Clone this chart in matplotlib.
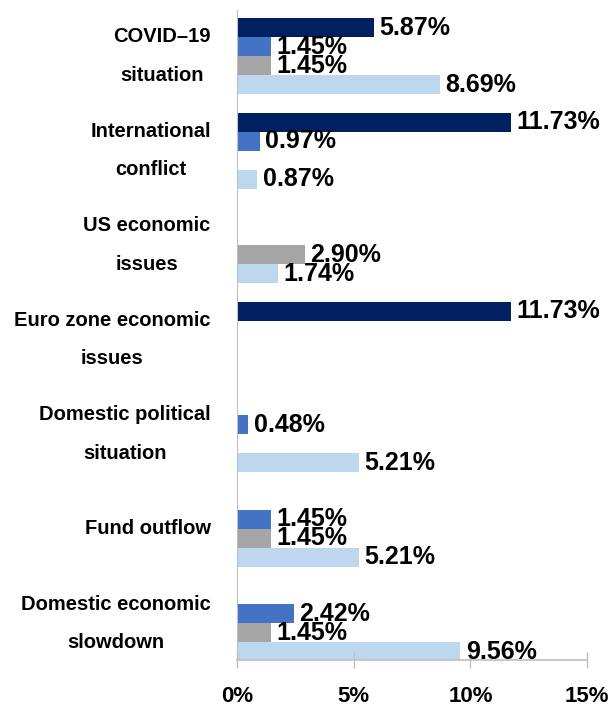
import matplotlib
matplotlib.use('Agg')
import matplotlib.pyplot as plt
import numpy as np

plt.rcParams['font.family'] = ['Liberation Sans', 'DejaVu Sans']
plt.rcParams['font.weight'] = 'bold'

categories = ['COVID–19\nsituation', 'International\nconflict', 'US economic\nissues',
              'Euro zone economic\nissues', 'Domestic political\nsituation', 'Fund outflow',
              'Domestic economic\nslowdown']

# four series, drawn top to bottom inside each group
s_navy = [5.87, 11.73, 0, 11.73, 0, 0, 0]
s_blue = [1.45, 0.97, 0, 0, 0.48, 1.45, 2.42]
s_gray = [1.45, 0, 2.90, 0, 0, 1.45, 1.45]
s_light = [8.69, 0.87, 1.74, 0, 5.21, 5.21, 9.56]

series = [s_navy, s_blue, s_gray, s_light]
colors = ['#002060', '#4472C4', '#A5A5A5', '#BDD7EE']
offsets = [-0.3, -0.1, 0.1, 0.3]

fig = plt.figure(figsize=(6.11, 7.06), dpi=100)
ax = fig.add_axes([0.388, 0.065, 0.573, 0.921])

y = np.arange(len(categories))
for vals, c, off in zip(series, colors, offsets):
    bars = ax.barh(y + off, vals, height=0.2, color=c, edgecolor='none')
    labels = ['' if v == 0 else f'{v:.2f}%' for v in vals]
    ax.bar_label(bars, labels=labels, padding=4, fontsize=18, fontweight='bold')

ax.set_xlim(0, 15)
ax.set_ylim(6.39, -0.49)
ax.set_xticks([0, 5, 10, 15])
ax.set_xticklabels(['0%', '5%', '10%', '15%'], fontsize=16, fontweight='bold')
ax.set_yticks(y)
ax.set_yticklabels(categories, fontsize=14.5, fontweight='bold', va='center',
                   multialignment='center', linespacing=2.3)

ax.tick_params(axis='y', length=0, pad=19)
ax.tick_params(axis='x', direction='inout', length=11.5, width=1,
               color='#BFBFBF', pad=13)

for side in ['top', 'right']:
    ax.spines[side].set_visible(False)
ax.spines['left'].set_color('#BFBFBF')
ax.spines['bottom'].set_color('#BFBFBF')
ax.spines['bottom'].set_linewidth(1.2)

fig.savefig('out.png', dpi=100)
